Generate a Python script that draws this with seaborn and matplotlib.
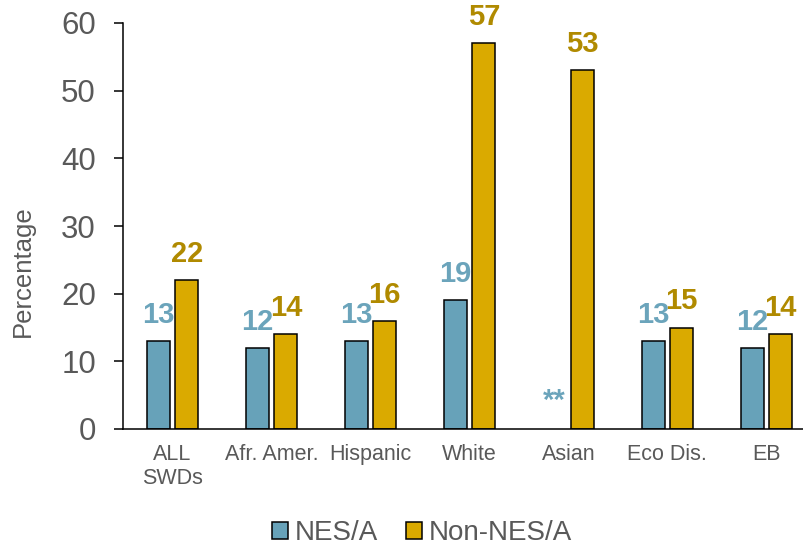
import numpy as np
import pandas as pd
import matplotlib
matplotlib.use("Agg")
import matplotlib.pyplot as plt
import seaborn as sns
from matplotlib.patches import Patch

# Data
categories = ["ALL\nSWDs", "Afr. Amer.", "Hispanic", "White", "Asian", "Eco Dis.", "EB"]
nes_values = [13, 12, 13, 19, np.nan, 13, 12]
non_nes_values = [22, 14, 16, 57, 53, 15, 14]
series_names = ["NES/A", "Non-NES/A"]
suppressed_mark = "**"
y_ticks = [0, 10, 20, 30, 40, 50, 60]

nes_color = "#67A2B9"
non_color = "#DAAA00"
nes_text = "#6BA4BB"
non_text = "#B08A00"
grey = "#595959"

df = pd.DataFrame({
    "category": categories * 2,
    "group": [series_names[0]] * len(categories) + [series_names[1]] * len(categories),
    "value": nes_values + non_nes_values,
})

sns.set_theme(style="white")
plt.rcParams["font.family"] = ["Liberation Sans", "DejaVu Sans"]

fig = plt.figure(figsize=(8.04, 5.46), dpi=100)
ax = fig.add_axes([123 / 804, 117 / 546, 681 / 804, 406 / 546])

sns.barplot(
    data=df, x="category", y="value", hue="group",
    order=categories, hue_order=series_names,
    palette=[nes_color, non_color], width=0.58, gap=0.2,
    edgecolor="black", linewidth=1.1, saturation=1, legend=False, ax=ax,
)

# Value labels above each bar; bars are matched to categories by position,
# since seaborn skips the missing value
label_style = dict(fontsize=21, fontweight="bold")
series = {series_names[0]: (nes_values, nes_text), series_names[1]: (non_nes_values, non_text)}
for container, name in zip(ax.containers, series_names):
    vals, col = series[name]
    offset = None
    drawn = set()
    for bar in container:
        x = bar.get_x() + bar.get_width() / 2
        idx = int(round(x))
        offset = x - idx
        drawn.add(idx)
        v = vals[idx]
        ax.annotate(f"{v:g}", (x, v), xytext=(0, 13), textcoords="offset points",
                    ha="center", va="baseline", color=col, annotation_clip=False,
                    **label_style)
    for idx, v in enumerate(vals):
        if idx not in drawn and np.isnan(v):
            ax.text(idx + offset, 3, suppressed_mark, ha="center", va="baseline",
                    color=col, **label_style)

ax.set_ylim(0, 60)
ax.set_xlim(-0.5, 6.38)
ax.set_yticks(y_ticks)
ax.tick_params(axis="y", which="major", direction="out", length=6.5, width=1.1,
               color="black", labelsize=22.5, labelcolor=grey, pad=13, left=True)
ax.tick_params(axis="x", length=0, labelsize=15.5, labelcolor=grey, pad=11)

for side in ["top", "right"]:
    ax.spines[side].set_visible(False)
for side in ["left", "bottom"]:
    ax.spines[side].set_color("black")
    ax.spines[side].set_linewidth(1.1)

ax.set_xlabel("")
ax.set_ylabel("Percentage", fontsize=18.5, color=grey)
ax.yaxis.set_label_coords(-0.13, 0.39)

handles = [Patch(facecolor=nes_color, edgecolor="black", linewidth=1.1),
           Patch(facecolor=non_color, edgecolor="black", linewidth=1.1)]
leg = fig.legend(handles, series_names, loc="center", bbox_to_anchor=(422 / 804, 1 - 533 / 546),
                 ncol=2, frameon=False, fontsize=20, handlelength=0.58, handleheight=0.58,
                 handletextpad=0.25, columnspacing=1.0, borderaxespad=0)
for t in leg.get_texts():
    t.set_color(grey)

fig.savefig("out.png", dpi=100)
